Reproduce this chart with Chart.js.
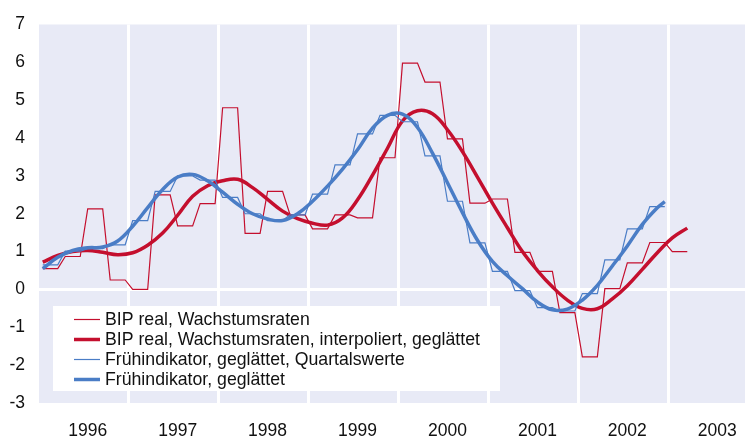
<!DOCTYPE html>
<html>
<head>
<meta charset="utf-8">
<script src="https://cdn.jsdelivr.net/npm/chart.js@4.4.0/dist/chart.umd.min.js"></script>
<style>
  html, body { margin: 0; padding: 0; background: #fff; }
</style>
</head>
<body>
<canvas id="grafik" width="745" height="439"></canvas>
<script>
// x-Achse in Monaten ab Januar 1996 (0 = Anfang Jan 1996)
const jahre = ['1996', '1997', '1998', '1999', '2000', '2001', '2002', '2003'];
const yWerte = [-3, -2, -1, 0, 1, 2, 3, 4, 5, 6, 7];

// BIP real, Wachstumsraten (Quartale Q1 1996 - Q1 2003)
const bipQuartal = [0.55, 0.87, 2.13, 0.25, 0.0, 2.5, 1.68, 2.27,
  4.8, 1.48, 2.59, 1.97, 1.6, 1.97, 1.89, 3.48,
  5.98, 5.48, 3.98, 2.28, 2.39, 0.98, 0.48, -0.61,
  -1.78, 0.02, 0.7, 1.24, 1.0];

// Frühindikator, geglättet, Quartalswerte (Q1 1996 - Q4 2002)
const fruehQuartal = [0.65, 1.01, 1.08, 1.18, 1.82, 2.59, 3.0, 2.89,
  2.43, 2.0, 1.82, 1.97, 2.52, 3.29, 4.11, 4.6,
  4.43, 3.53, 2.33, 1.23, 0.48, -0.03, -0.48, -0.57,
  -0.11, 0.78, 1.6, 2.19];

// BIP real, interpoliert, geglättet (Monatswerte)
const bipGlattMonate = [0, 2, 4, 6, 8, 10, 12, 14, 16, 18, 20, 22, 24, 26, 28, 30, 32, 34, 36, 38, 40, 42,
  44, 46, 48, 50, 52, 54, 56, 58, 60, 62, 64, 66, 68, 70, 72, 74, 76, 78, 80, 82, 84, 86];
const bipGlatt = [0.72, 0.9, 1.0, 1.03, 0.98, 0.92, 0.97, 1.17, 1.49, 1.96,
  2.46, 2.74, 2.87, 2.91, 2.69, 2.38, 2.07, 1.87, 1.75, 1.7,
  1.89, 2.37, 3.02, 3.73, 4.45, 4.72, 4.64, 4.22, 3.64, 2.97,
  2.28, 1.63, 1.0, 0.5, 0.07, -0.28, -0.5, -0.51, -0.25, 0.1,
  0.53, 0.97, 1.36, 1.62];

// Frühindikator, geglättet (Monatswerte)
const fruehGlattMonate = [0, 2, 4, 6, 8, 10, 12, 14, 16, 18, 20, 22, 24, 26, 28, 30, 32, 34, 36, 38, 40, 42,
  44, 46, 48, 50, 52, 54, 56, 58, 60, 62, 64, 66, 68, 70, 72, 74, 76, 78, 80, 82, 83];
const fruehGlatt = [0.55, 0.85, 1.03, 1.1, 1.12, 1.28, 1.67, 2.16, 2.64, 2.97,
  3.04, 2.87, 2.57, 2.25, 2.0, 1.86, 1.82, 2.0, 2.33, 2.73,
  3.18, 3.69, 4.26, 4.6, 4.63, 4.28, 3.6, 2.82, 2.03, 1.3,
  0.74, 0.36, 0.02, -0.33, -0.54, -0.52, -0.28, 0.11, 0.62, 1.15,
  1.72, 2.16, 2.32];

const rot = '#C40F2E';
const blau = '#4A7DC6';
const schrift = '"Liberation Sans", Arial, sans-serif';

// Quartalswert gilt für drei Monate (Monatsmitte)
function quartalsPunkte(werte) {
  const pts = [];
  werte.forEach((v, q) => {
    for (let k = 0; k < 3; k++) pts.push({ x: q * 3 + k + 0.5, y: v });
  });
  return pts;
}
function monatsPunkte(monate, werte) {
  return monate.map((m, i) => ({ x: m + 0.5, y: werte[i] }));
}

const hintergrund = {
  id: 'hintergrund',
  beforeDraw(chart) {
    const a = chart.chartArea;
    const ctx = chart.ctx;
    ctx.save();
    ctx.fillStyle = '#E8EAF6';
    ctx.fillRect(a.left, a.top, a.right - a.left, a.bottom - a.top);
    ctx.restore();
  }
};

const legende = {
  id: 'legende',
  afterDraw(chart) {
    const a = chart.chartArea;
    const ctx = chart.ctx;
    const x0 = a.left + 14, y0 = 306;
    ctx.save();
    ctx.fillStyle = '#fff';
    ctx.fillRect(x0, y0, 447, 85);
    ctx.font = '17.7px ' + schrift;
    ctx.textBaseline = 'middle';
    chart.data.datasets.forEach((ds, i) => {
      const y = y0 + 13.5 + i * 20;
      ctx.strokeStyle = ds.borderColor;
      ctx.lineWidth = ds.borderWidth;
      ctx.beginPath();
      ctx.moveTo(x0 + 21, y);
      ctx.lineTo(x0 + 47, y);
      ctx.stroke();
      ctx.fillStyle = '#111';
      ctx.fillText(ds.label, x0 + 52, y + 1);
    });
    ctx.restore();
  }
};

new Chart(document.getElementById('grafik'), {
  type: 'line',
  data: {
    datasets: [
      {
        label: 'BIP real, Wachstumsraten',
        data: quartalsPunkte(bipQuartal),
        borderColor: rot, borderWidth: 1.2, tension: 0, order: 4
      },
      {
        label: 'BIP real, Wachstumsraten, interpoliert, geglättet',
        data: monatsPunkte(bipGlattMonate, bipGlatt),
        borderColor: rot, borderWidth: 3.5, tension: 0.4, order: 3
      },
      {
        label: 'Frühindikator, geglättet, Quartalswerte',
        data: quartalsPunkte(fruehQuartal),
        borderColor: blau, borderWidth: 1.2, tension: 0, order: 2
      },
      {
        label: 'Frühindikator, geglättet',
        data: monatsPunkte(fruehGlattMonate, fruehGlatt),
        borderColor: blau, borderWidth: 3.5, tension: 0.4, order: 1
      }
    ]
  },
  options: {
    responsive: false,
    animation: false,
    devicePixelRatio: 1,
    layout: { padding: { top: 23, right: 0, left: 0, bottom: 0 } },
    elements: { point: { radius: 0 }, line: { borderCapStyle: 'butt' } },
    plugins: { legend: { display: false }, tooltip: { enabled: false } },
    scales: {
      x: {
        type: 'linear',
        min: 0,
        max: 94.2,
        border: { display: false },
        afterBuildTicks: (s) => {
          const t = [];
          jahre.forEach((j, i) => { t.push({ value: i * 12 }); t.push({ value: i * 12 + 6.5 }); });
          s.ticks = t;
        },
        afterFit: (s) => {
          s.height = 36;
          s.paddingLeft = 0;
          s.paddingRight = 0;
        },
        ticks: {
          autoSkip: false,
          maxRotation: 0,
          padding: 18,
          color: '#111',
          font: { family: schrift, size: 17.5 },
          callback: (v) => (v % 12 === 6.5 ? jahre[Math.floor(v / 12)] : '')
        },
        grid: {
          drawTicks: false,
          lineWidth: 3,
          color: (c) => (c.tick && c.tick.value % 12 === 0 && c.tick.value > 0 ? '#ffffff' : 'rgba(0,0,0,0)')
        }
      },
      y: {
        min: -3,
        max: 7,
        border: { display: false },
        afterBuildTicks: (s) => { s.ticks = yWerte.map(v => ({ value: v })); },
        afterFit: (s) => { s.width = 39; },
        ticks: {
          padding: 14,
          color: '#111',
          font: { family: schrift, size: 17.5 }
        },
        grid: {
          drawTicks: false,
          lineWidth: 3,
          color: (c) => (c.tick && c.tick.value === 0 ? '#ffffff' : 'rgba(0,0,0,0)')
        }
      }
    }
  },
  plugins: [hintergrund, legende]
});
</script>
</body>
</html>
